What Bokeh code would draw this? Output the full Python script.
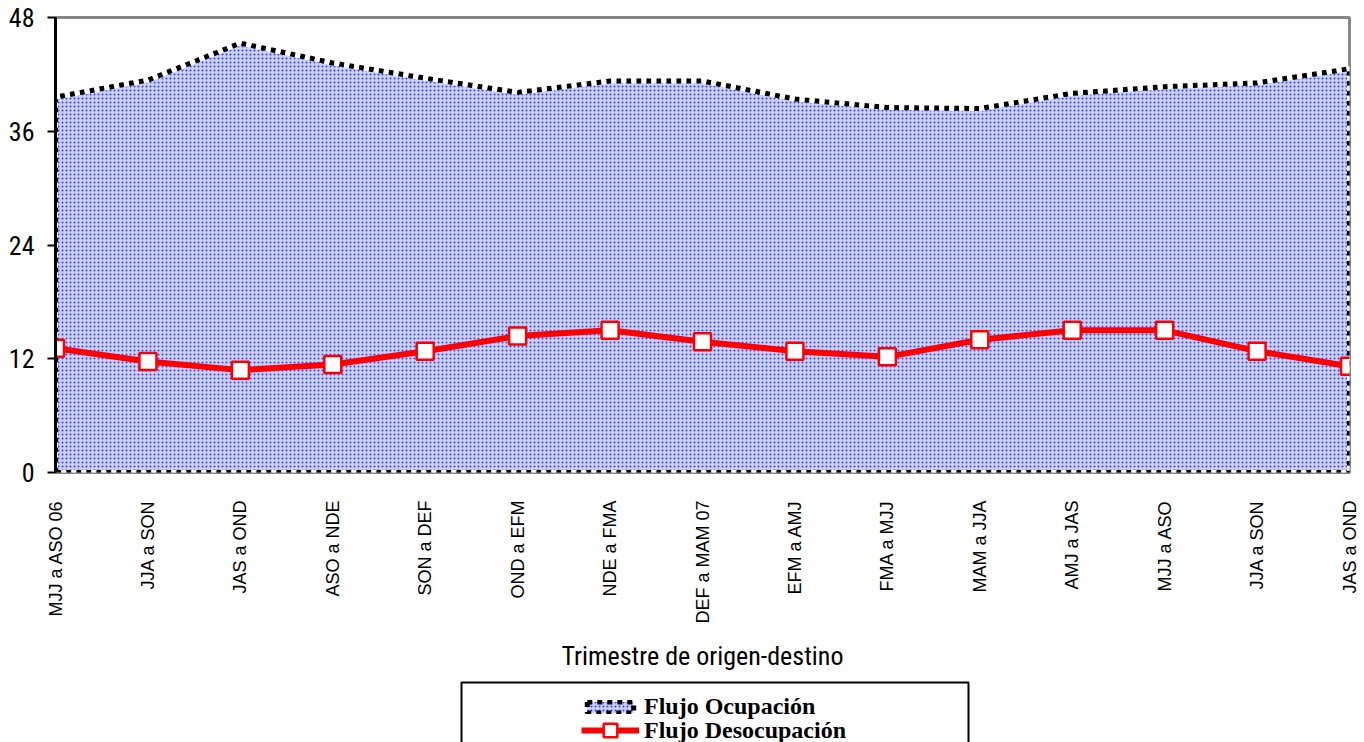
import numpy as np
from bokeh.plotting import figure
from bokeh.layouts import column
from bokeh.models import Range1d, FixedTicker, Legend, LegendItem, BoxAnnotation
from bokeh.embed import file_html
from bokeh.resources import INLINE

categories = ["MJJ a ASO 06", "JJA a SON", "JAS a OND", "ASO a NDE", "SON a DEF",
              "OND a EFM", "NDE a FMA", "DEF a MAM 07", "EFM a AMJ", "FMA a MJJ",
              "MAM a JJA", "AMJ a JAS", "MJJ a ASO", "JJA a SON", "JAS a OND"]
flujo_ocupacion = [39.6, 41.4, 45.3, 43.2, 41.6, 40.1, 41.3, 41.3, 39.4, 38.5,
                   38.4, 40.0, 40.7, 41.1, 42.6]
flujo_desocupacion = [13.1, 11.7, 10.8, 11.4, 12.8, 14.4, 15.0, 13.8, 12.8, 12.2,
                      14.0, 15.0, 15.0, 12.8, 11.2]
y_ticks = [0, 12, 24, 36, 48]
x_title = "Trimestre de origen-destino"
series_names = ["Flujo Ocupación", "Flujo Desocupación"]

NARROW = "'Liberation Sans Narrow', 'Arial Narrow', 'Roboto Condensed', sans-serif"

AREA_STYLE = dict(fill_color="#ccd0fb", hatch_pattern="dot", hatch_color="#3040ff",
                  hatch_scale=4, hatch_weight=1.5, line_color="black",
                  line_width=5, line_dash="5 5")
LINE_STYLE = dict(line_color="#ff0000", line_width=6)
MARK_STYLE = dict(marker="square", size=17, fill_color="white",
                  line_color="#ff0000", line_width=2.5)

xs = list(range(len(categories)))
n = len(categories) - 1
poly_x = [xs[0]] + xs + [xs[-1]]
poly_y = [0] + flujo_ocupacion + [0]

W = 1364
H1 = 676
p = figure(width=W, height=H1, x_range=Range1d(0, n), y_range=Range1d(0, 48),
           output_backend="svg", toolbar_location=None,
           min_border_left=55, min_border_right=W - 1349, min_border_top=17,
           min_border_bottom=H1 - 472)
p.xgrid.visible = False
p.ygrid.visible = False
p.outline_line_color = "#888888"
p.outline_line_width = 3
p.background_fill_color = "white"

# Area (Flujo Ocupación)
p.patch(poly_x, poly_y, **AREA_STYLE)
p.line(poly_x + [poly_x[0]], poly_y + [poly_y[0]], line_color="white",
       line_width=5, line_dash="5 5", line_dash_offset=5)

# Line (Flujo Desocupación)
p.line(xs, flujo_desocupacion, **LINE_STYLE)
p.scatter(xs, flujo_desocupacion, **MARK_STYLE)

# Axes
yax = p.yaxis[0]
yax.ticker = FixedTicker(ticks=y_ticks)
yax.axis_line_color = "black"
yax.axis_line_width = 3
yax.major_tick_out = 8
yax.major_tick_in = 0
yax.major_tick_line_width = 2
yax.minor_tick_line_color = None
yax.major_label_text_font = NARROW
yax.major_label_text_font_size = "26px"
yax.major_label_text_color = "black"
yax.major_label_standoff = 13

xax = p.xaxis[0]
xax.ticker = FixedTicker(ticks=xs)
xax.major_label_overrides = {i: c for i, c in zip(xs, categories)}
xax.major_label_orientation = np.pi / 2
xax.axis_line_color = None
xax.major_tick_line_color = None
xax.minor_tick_line_color = None
xax.major_label_text_font = "Liberation Sans"
xax.major_label_text_font_size = "18px"
xax.major_label_text_color = "black"
xax.major_label_standoff = 22
xax.axis_label = x_title
xax.axis_label_text_font = NARROW
xax.axis_label_text_font_size = "26px"
xax.axis_label_text_font_style = "normal"
xax.axis_label_text_color = "black"
xax.axis_label_standoff = 14

# Legend panel below the chart (series drawn off-range, only their legend glyphs show)
LH = 742 - H1
p2 = figure(width=W, height=LH, x_range=Range1d(0, 1), y_range=Range1d(1000, 1001),
            output_backend="svg", toolbar_location=None,
            x_axis_type=None, y_axis_type=None,
            min_border_left=0, min_border_right=0, min_border_top=0, min_border_bottom=0)
p2.xgrid.visible = False
p2.ygrid.visible = False
p2.outline_line_color = None

box = BoxAnnotation(left=461, right=968, top=6, bottom=LH + 10,
                    left_units="canvas", right_units="canvas",
                    top_units="canvas", bottom_units="canvas",
                    fill_color="white", fill_alpha=1.0,
                    line_color="black", line_alpha=1.0, line_width=2)
p2.add_layout(box)

la = p2.patch(poly_x, poly_y, **AREA_STYLE)
ll = p2.line(xs, flujo_desocupacion, **LINE_STYLE)
lm = p2.scatter(xs, flujo_desocupacion, **MARK_STYLE)

common = dict(orientation="vertical", padding=0, spacing=0, margin=0,
              border_line_color=None, background_fill_alpha=0,
              glyph_width=58, label_height=22, label_standoff=5,
              label_text_font="Liberation Serif", label_text_font_style="bold",
              label_text_font_size="24px", label_text_color="black")
leg1 = Legend(items=[LegendItem(label=series_names[0], renderers=[la])],
              location=(526, 22), glyph_height=14, **common)
leg2 = Legend(items=[LegendItem(label=series_names[1], renderers=[ll, lm])],
              location=(526, -5), glyph_height=34, **common)
p2.add_layout(leg1, "center")
p2.add_layout(leg2, "center")

layout = column(p, p2, spacing=0)
open("out.html", "w").write(file_html(layout, INLINE))
